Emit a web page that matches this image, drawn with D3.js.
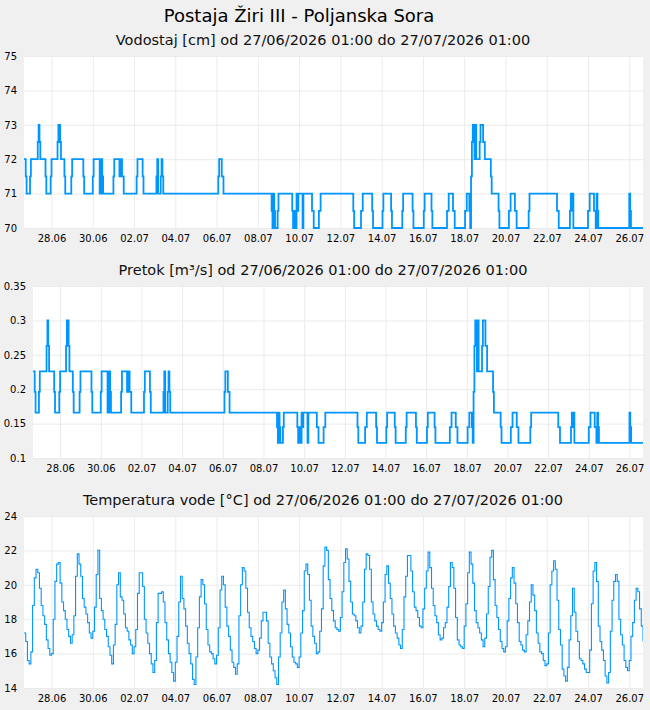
<!DOCTYPE html>
<html>
<head>
<meta charset="utf-8">
<script src="https://cdn.jsdelivr.net/npm/d3@7"></script>
<style>
  body { margin: 0; background: #f0f0f0; }
  svg { display: block; font-family: "DejaVu Sans", sans-serif; }
</style>
</head>
<body>
<div id="chart"></div>
<script>
// Time axis: left edge of the plots, all data times are hours from here
const t0 = Date.UTC(2026, 5, 26, 16);
const spanHours = 720;

const xTickLabels = ['28.06', '30.06', '02.07', '04.07', '06.07', '08.07', '10.07', '12.07',
    '14.07', '16.07', '18.07', '20.07', '22.07', '24.07', '26.07'];

const stageTicks = [70, 71, 72, 73, 74, 75];
const flowTicks = [0.1, 0.15, 0.2, 0.25, 0.3, 0.35];
const tempTicks = [14, 16, 18, 20, 22, 24];

// Water level [cm] - [hour, value] at each change
const stageSteps = [
    [0, 72], [2, 71.5], [3, 71], [7, 71.5], [8, 72], [16, 72.5], [17, 73], [18, 72.5], [19, 72],
    [25, 71.5], [26, 71], [31, 71.5], [32, 72], [39, 72.5], [40, 73], [42, 72.5], [43, 72],
    [47, 71.5], [48, 71], [55, 71.5], [56, 72], [69, 71.5], [70, 71], [80, 71.5], [81, 72],
    [88, 71], [90, 72], [91, 71.5], [92, 71], [104, 71.5], [105, 72], [111, 71.5], [112, 72],
    [114, 71.5], [116, 71], [131, 71.5], [132, 72], [138, 71.5], [139, 71], [154, 71.5], [155, 72],
    [156, 71], [159, 71.5], [160, 72], [161, 71.5], [162, 71], [226, 71.5], [227, 72], [230, 71.5],
    [232, 71], [288, 70.5], [289, 70], [290, 71], [291, 70.5], [292, 70], [295, 70.5], [296, 71],
    [312, 70.5], [313, 70], [314, 70.5], [315, 70], [317, 71], [318, 70.5], [319, 71], [324, 70],
    [325, 71], [335, 70.5], [337, 70], [343, 70.5], [345, 71], [383, 70.5], [384, 70], [392, 70.5],
    [394, 71], [405, 70.5], [406, 70], [417, 70.5], [418, 71], [427, 70.5], [428, 70], [440, 70.5],
    [441, 71], [452, 70.5], [453, 70], [465, 70.5], [466, 71], [474, 70.5], [475, 70], [492, 70.5],
    [494, 71], [499, 70.5], [501, 70], [513, 70.5], [515, 71], [518, 70.5], [519, 70], [520, 71.5],
    [521, 72.5], [522, 73], [523, 72.5], [524, 72], [525, 73], [526, 72], [530, 72.5], [531, 73],
    [534, 72.5], [536, 72], [543, 71.5], [544, 71], [552, 70.5], [553, 70], [564, 70.5], [566, 71],
    [571, 70.5], [573, 70], [587, 70.5], [588, 71], [620, 70.5], [622, 70], [635, 70.5], [636, 71],
    [637, 70.5], [638, 71], [639, 70], [656, 70.5], [658, 71], [663, 70.5], [665, 70], [666, 71],
    [667, 70.5], [668, 70], [704, 71], [705, 70.5], [706, 70]
];

// Discharge [m3/s] - [hour, value] at each change
const flowSteps = [
    [0, 0.226], [2, 0.196], [3, 0.166], [7, 0.196], [8, 0.226], [16, 0.263], [17, 0.30], [18, 0.263], [19, 0.226],
    [25, 0.196], [26, 0.166], [31, 0.196], [32, 0.226], [39, 0.263], [40, 0.30], [42, 0.263], [43, 0.226],
    [47, 0.196], [48, 0.166], [55, 0.196], [56, 0.226], [69, 0.196], [70, 0.166], [80, 0.196], [81, 0.226],
    [88, 0.166], [90, 0.226], [91, 0.196], [92, 0.166], [104, 0.196], [105, 0.226], [111, 0.196], [112, 0.226],
    [114, 0.196], [116, 0.166], [131, 0.196], [132, 0.226], [138, 0.196], [139, 0.166], [154, 0.196], [155, 0.226],
    [156, 0.166], [159, 0.196], [160, 0.226], [161, 0.196], [162, 0.166], [226, 0.196], [227, 0.226], [230, 0.196],
    [232, 0.166], [288, 0.145], [289, 0.122], [290, 0.166], [291, 0.145], [292, 0.122], [295, 0.145], [296, 0.166],
    [312, 0.145], [313, 0.122], [314, 0.145], [315, 0.122], [317, 0.166], [318, 0.145], [319, 0.166], [324, 0.122],
    [325, 0.166], [335, 0.145], [337, 0.122], [343, 0.145], [345, 0.166], [383, 0.145], [384, 0.122], [392, 0.145],
    [394, 0.166], [405, 0.145], [406, 0.122], [417, 0.145], [418, 0.166], [427, 0.145], [428, 0.122], [440, 0.145],
    [441, 0.166], [452, 0.145], [453, 0.122], [465, 0.145], [466, 0.166], [474, 0.145], [475, 0.122], [492, 0.145],
    [494, 0.166], [499, 0.145], [501, 0.122], [513, 0.145], [515, 0.166], [518, 0.145], [519, 0.122], [520, 0.196],
    [521, 0.263], [522, 0.30], [523, 0.263], [524, 0.226], [525, 0.30], [526, 0.226], [530, 0.263], [531, 0.30],
    [534, 0.263], [536, 0.226], [543, 0.196], [544, 0.166], [552, 0.145], [553, 0.122], [564, 0.145], [566, 0.166],
    [571, 0.145], [573, 0.122], [587, 0.145], [588, 0.166], [620, 0.145], [622, 0.122], [635, 0.145], [636, 0.166],
    [637, 0.145], [638, 0.166], [639, 0.122], [656, 0.145], [658, 0.166], [663, 0.145], [665, 0.122], [666, 0.166],
    [667, 0.145], [668, 0.122], [704, 0.166], [705, 0.145], [706, 0.122]
];

// Water temperature [°C], one reading every 2 hours from hour 0
const tempEvery = 2;
const temps = [
    17.2, 16.7, 15.6, 15.4, 16.1, 18.8, 20.4, 20.9, 20.7, 19.8,
    18.8, 18.2, 17.7, 16.8, 16.3, 15.9, 16.0, 18.0, 20.2, 21.2,
    21.3, 20.1, 19.0, 18.5, 18.0, 17.4, 17.0, 16.6, 17.1, 18.2,
    20.5, 21.8, 21.2, 20.5, 19.2, 18.7, 18.3, 17.8, 17.2, 16.9,
    17.3, 18.7, 20.6, 22.0, 19.2, 18.5, 18.0, 17.4, 17.0, 16.4,
    15.9, 15.4, 16.5, 17.7, 20.0, 20.7, 19.3, 19.1, 18.3, 17.5,
    17.3, 16.8, 16.5, 16.0, 16.4, 17.4, 19.5, 20.7, 20.7, 19.9,
    18.0, 17.2, 16.6, 16.0, 15.4, 14.9, 15.6, 17.8, 19.5, 19.5,
    19.6, 19.0, 17.8, 16.8, 16.0, 15.5, 14.9, 14.4, 15.5, 17.0,
    19.0, 20.5, 19.2, 18.6, 17.6, 16.6, 16.0, 15.4, 14.5, 14.2,
    15.8, 17.5, 19.3, 20.3, 20.0, 18.9, 17.4, 16.5, 16.1, 16.0,
    15.7, 15.4, 15.9, 17.5, 19.7, 20.5, 20.0, 18.7, 17.6, 17.0,
    16.2, 15.5, 15.2, 14.8, 15.4, 18.2, 20.0, 21.0, 20.8, 19.8,
    18.4, 17.5, 17.0, 16.7, 16.3, 16.0, 16.2, 16.9, 17.9, 18.4,
    18.4, 17.9, 16.6, 15.8, 15.4, 15.0, 14.6, 14.2, 15.8, 17.2,
    19.0, 19.7, 18.6, 17.7, 17.2, 16.4, 15.8, 15.5, 15.4, 15.2,
    15.8, 17.2, 18.5, 20.8, 21.2, 20.6, 19.1, 17.6, 17.0, 16.6,
    16.0, 16.1, 17.3, 18.6, 21.1, 22.2, 22.0, 20.3, 19.2, 18.5,
    17.9, 17.5, 17.4, 17.3, 18.1, 19.6, 21.3, 22.1, 21.5, 20.2,
    19.0, 18.3, 18.2, 17.9, 17.5, 17.2, 17.6, 19.0, 20.9, 21.8,
    21.7, 20.9, 19.0, 18.3, 17.9, 17.6, 17.4, 17.3, 17.8, 19.0,
    20.6, 21.1, 20.1, 19.2, 18.3, 17.6, 17.2, 16.9, 16.5, 16.3,
    17.4, 19.3, 20.5, 21.7, 21.7, 20.8, 19.6, 18.7, 18.5, 18.1,
    17.6, 17.5, 18.6, 19.8, 20.8, 21.9, 21.0, 19.8, 18.8, 18.2,
    17.8, 17.1, 16.8, 16.9, 17.5, 17.8, 18.7, 19.9, 21.3, 21.0,
    19.8, 18.1, 16.8, 16.5, 16.4, 16.3, 17.6, 18.9, 20.7, 21.9,
    21.2, 20.1, 18.5, 17.8, 17.5, 17.2, 16.8, 16.4, 16.9, 18.3,
    19.9, 21.6, 22.0, 20.3, 18.8, 18.1, 17.4, 16.7, 16.3, 16.1,
    16.4, 17.9, 19.2, 20.4, 21.0, 20.1, 18.9, 17.8, 16.7, 16.5,
    16.2, 16.1, 17.1, 17.9, 19.0, 20.0, 19.4, 18.5, 17.2, 16.6,
    16.1, 16.0, 15.6, 15.3, 15.4, 17.2, 20.0, 20.8, 21.4, 20.9,
    19.1, 17.4, 16.5, 15.1, 14.7, 14.4, 15.2, 16.8, 18.2, 19.8,
    18.4, 17.3, 16.7, 15.7, 15.6, 15.4, 15.1, 14.9, 14.9, 16.2,
    18.9, 20.8, 21.3, 20.2, 17.6, 16.7, 16.2, 15.6, 14.7, 14.3,
    14.9, 17.3, 19.1, 20.2, 20.6, 20.2, 18.0, 17.1, 16.5, 15.6,
    15.2, 15.0, 15.6, 17.0, 17.8, 19.1, 19.8, 19.6, 18.6, 17.6,
    16.7
];

const hourToDate = h => new Date(t0 + h * 3600e3);
const tickDate = s => {
    const [d, m] = s.split('.').map(Number);
    return new Date(Date.UTC(2026, m - 1, d));
};

const stageData = stageSteps.map(([h, v]) => ({ t: hourToDate(h), v }));
stageData.push({ t: hourToDate(spanHours), v: stageSteps[stageSteps.length - 1][1] });
const flowData = flowSteps.map(([h, v]) => ({ t: hourToDate(h), v }));
flowData.push({ t: hourToDate(spanHours), v: flowSteps[flowSteps.length - 1][1] });
const tempData = temps.map((v, i) => ({ t: hourToDate(i * tempEvery), v }));

const panels = [
    { title: 'Vodostaj [cm] od 27/06/2026 01:00 do 27/07/2026 01:00', top: 56, left: 24,
      ticks: stageTicks, data: stageData, lineWidth: 1.8 },
    { title: 'Pretok [m³/s] od 27/06/2026 01:00 do 27/07/2026 01:00', top: 286, left: 33,
      ticks: flowTicks, data: flowData, lineWidth: 1.8 },
    { title: 'Temperatura vode [°C] od 27/06/2026 01:00 do 27/07/2026 01:00', top: 516, left: 24,
      ticks: tempTicks, data: tempData, lineWidth: 1.1 }
];

const width = 650, height = 710;
const plotRight = 643, plotHeight = 172;

const svg = d3.select('#chart')
    .append('svg')
    .attr('width', width)
    .attr('height', height);

svg.append('rect')
    .attr('width', width)
    .attr('height', height)
    .attr('fill', '#f0f0f0');

svg.append('text')
    .attr('x', 299)
    .attr('y', 22)
    .attr('text-anchor', 'middle')
    .style('font-size', '18px')
    .attr('fill', '#000')
    .text('Postaja Žiri III - Poljanska Sora');

panels.forEach((p, i) => {
    const x = d3.scaleUtc()
        .domain([hourToDate(0), hourToDate(spanHours)])
        .range([p.left, plotRight]);
    const y = d3.scaleLinear()
        .domain(d3.extent(p.ticks))
        .range([p.top + plotHeight, p.top]);

    const g = svg.append('g');

    g.append('text')
        .attr('x', 323)
        .attr('y', p.top - 11)
        .attr('text-anchor', 'middle')
        .style('font-size', '14.5px')
        .attr('fill', '#111')
        .text(p.title);

    g.append('rect')
        .attr('x', p.left)
        .attr('y', p.top)
        .attr('width', plotRight - p.left)
        .attr('height', plotHeight)
        .attr('fill', '#fff');

    // grid + tick labels
    g.append('g')
        .attr('transform', `translate(0,${p.top + plotHeight})`)
        .call(d3.axisBottom(x)
            .tickValues(xTickLabels.map(tickDate))
            .tickSize(-plotHeight)
            .tickFormat(d3.utcFormat('%d.%m')))
        .call(a => a.select('.domain').remove())
        .call(a => a.selectAll('line').attr('stroke', '#ebebeb'))
        .call(a => a.selectAll('text')
            .attr('y', 7)
            .style('font-size', '10px')
            .style('font-family', '"DejaVu Sans", sans-serif')
            .attr('fill', '#000'));

    g.append('g')
        .attr('transform', `translate(${p.left},0)`)
        .call(d3.axisLeft(y)
            .tickValues(p.ticks)
            .tickSize(-(plotRight - p.left))
            .tickPadding(7)
            .tickFormat(d => String(d)))
        .call(a => a.select('.domain').remove())
        .call(a => a.selectAll('line').attr('stroke', '#ebebeb'))
        .call(a => a.selectAll('text')
            .style('font-size', '10px')
            .style('font-family', '"DejaVu Sans", sans-serif')
            .attr('fill', '#000'));

    svg.append('clipPath')
        .attr('id', 'clip' + i)
        .append('rect')
        .attr('x', p.left)
        .attr('y', p.top - 1)
        .attr('width', plotRight - p.left)
        .attr('height', plotHeight + 2);

    const line = d3.line()
        .x(d => x(d.t))
        .y(d => y(d.v))
        .curve(d3.curveStepAfter);

    g.append('path')
        .datum(p.data)
        .attr('clip-path', `url(#clip${i})`)
        .attr('fill', 'none')
        .attr('stroke', '#0096ff')
        .attr('stroke-width', p.lineWidth)
        .attr('d', line);
});
</script>
</body>
</html>
